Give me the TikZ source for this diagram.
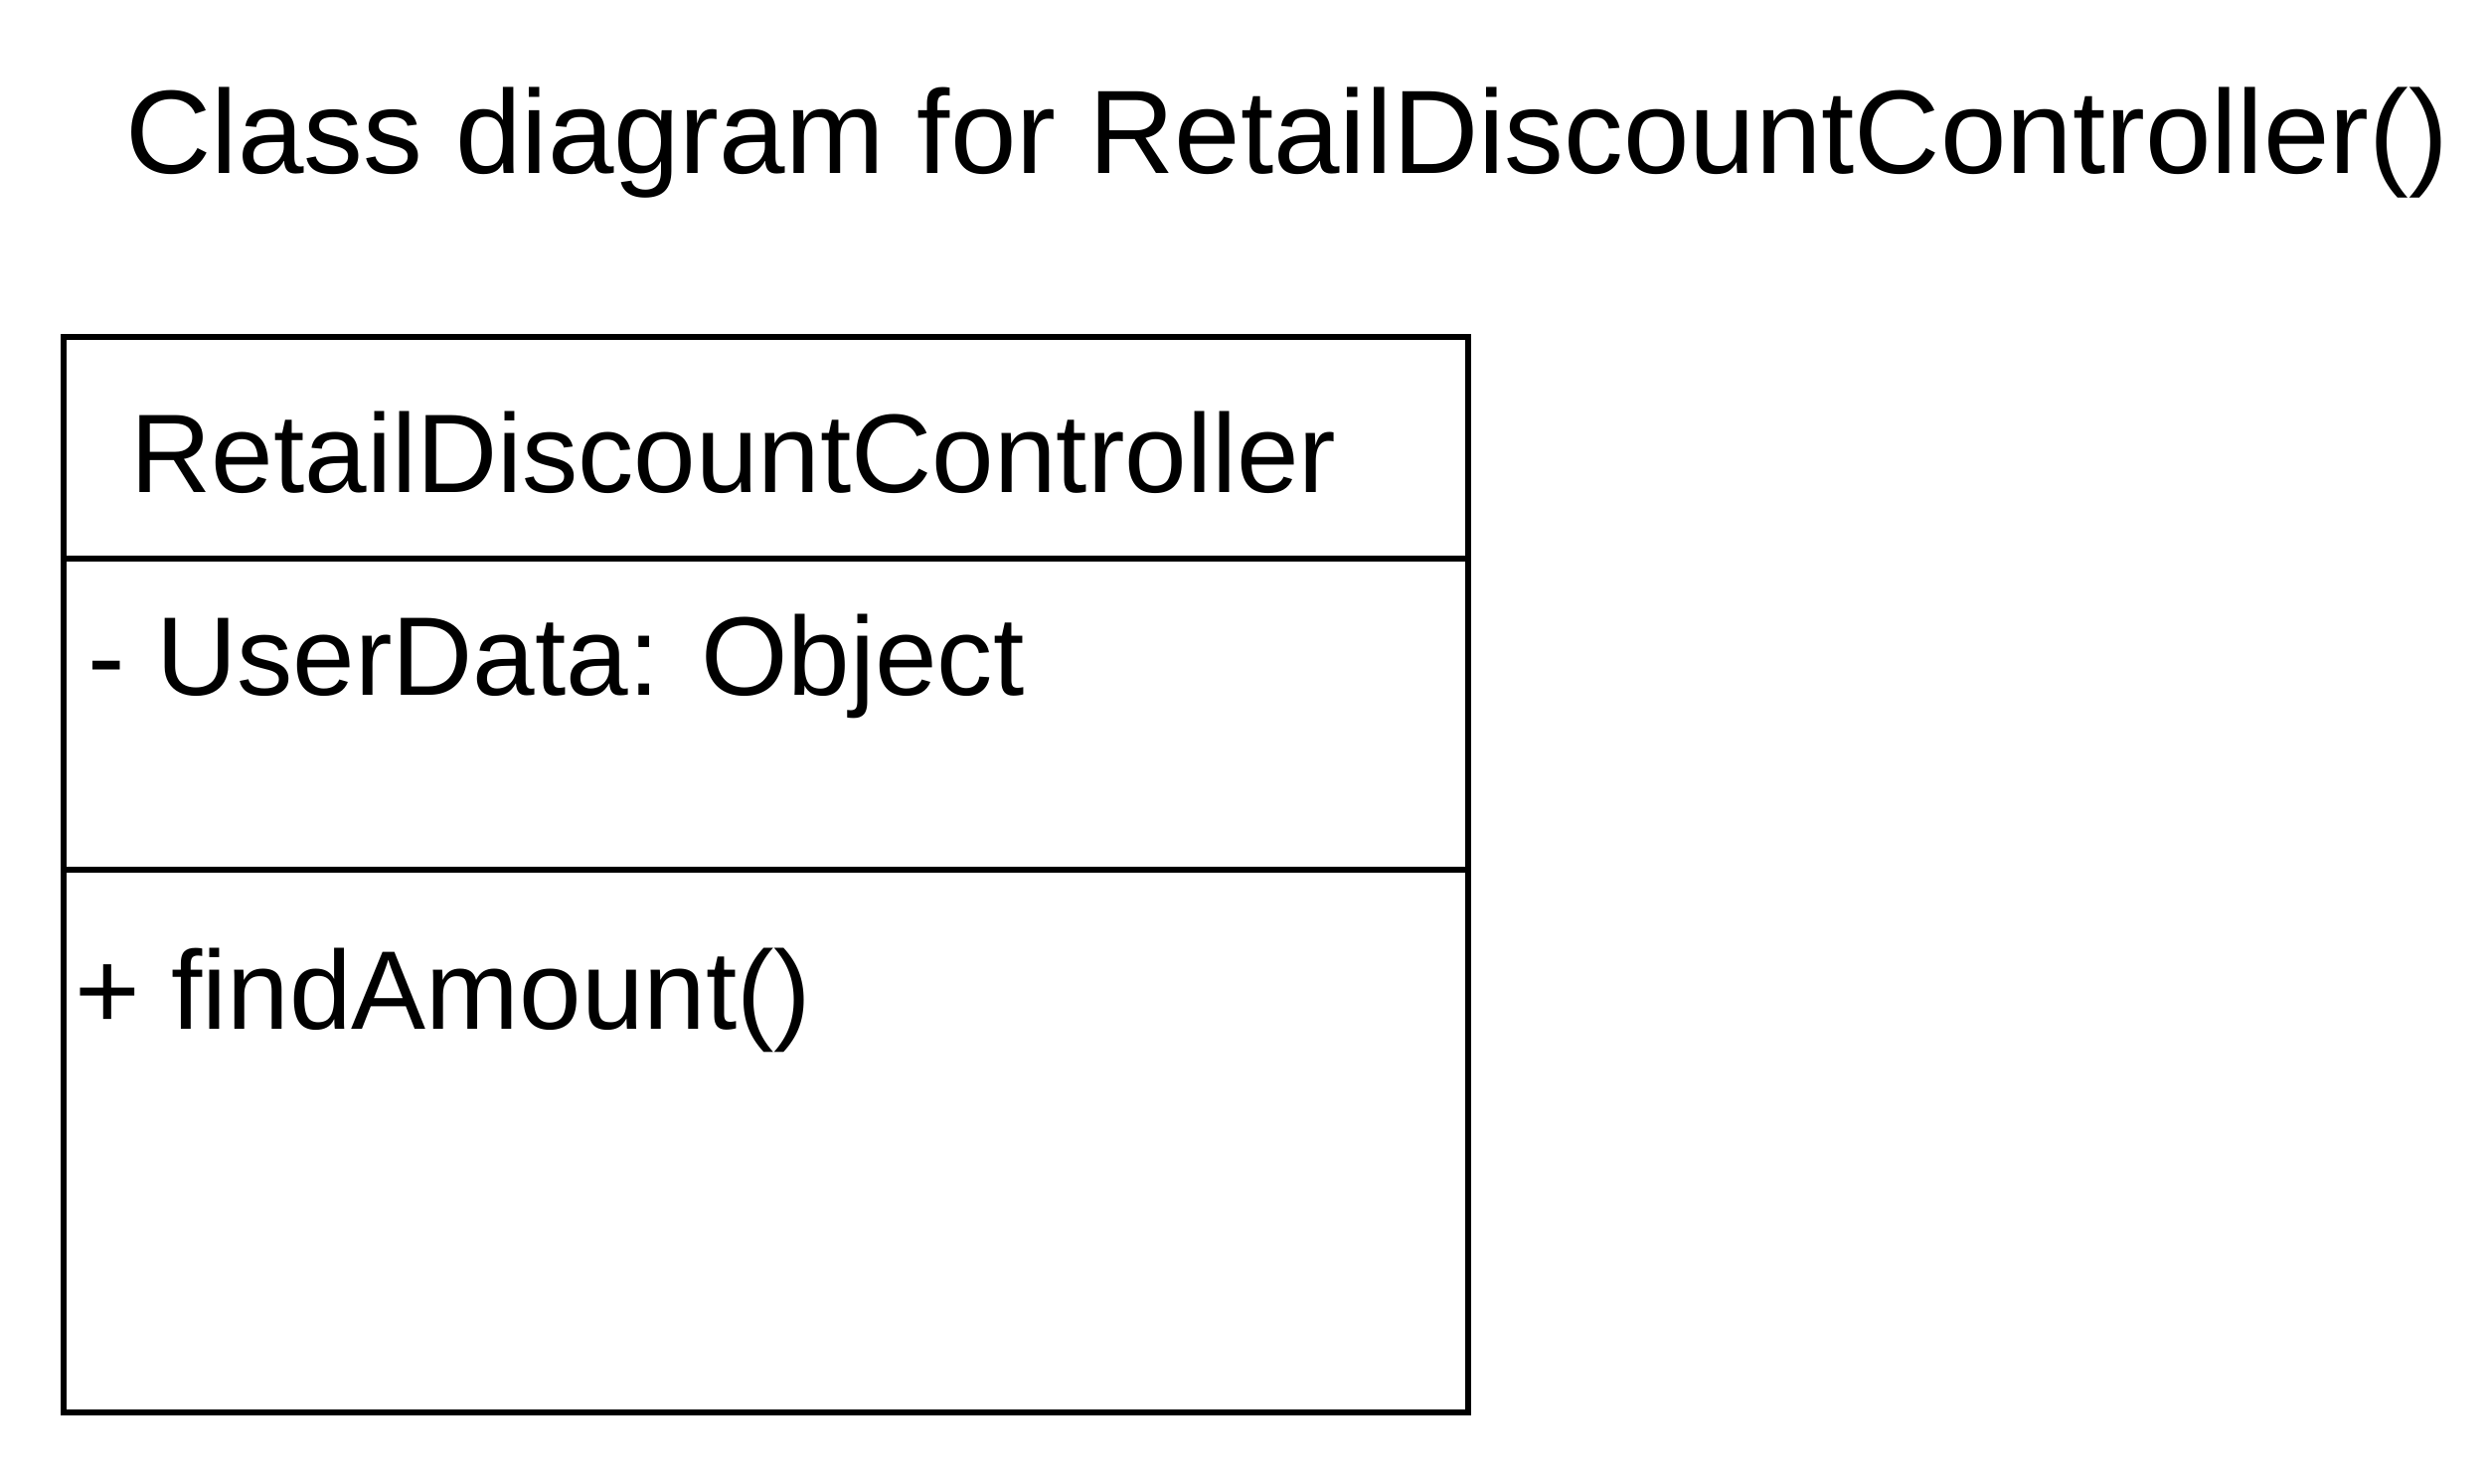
\documentclass[tikz,border=0pt]{standalone}
\usepackage{fontspec}
\setmainfont{Liberation Sans}
\usetikzlibrary{positioning,calc}

\begin{document}
\begin{tikzpicture}
\tikzstyle{compartment}=[draw, line width=1.8pt, minimum width=14.13cm, inner sep=0pt, outer sep=0pt]
\tikzstyle{member}=[anchor=west, inner sep=0pt, font=\fontsize{32}{38}\selectfont]
\useasboundingbox (0,0) rectangle (25.04,-14.92);
\node[font=\fontsize{34}{40}\selectfont] (title) at (12.95,-1.44) {Class diagram for RetailDiscountController()};
% class box
\node[compartment, minimum height=2.23cm] (name) at (7.705,-4.505) {};
\node[compartment, minimum height=3.13cm, below=0pt of name] (attrs) {};
\node[compartment, minimum height=5.46cm, below=0pt of attrs] (methods) {};
\node[font=\fontsize{32}{38}\selectfont] (classname) at (7.38,-4.55) {RetailDiscountController};
\node[member] (userdata) at ($(attrs.north west)+(0.24,-1.08)$) {- UserData: Object};
\node[member] (findamount) at ($(methods.north west)+(0.11,-1.31)$) {+ findAmount()};
\end{tikzpicture}
\end{document}
